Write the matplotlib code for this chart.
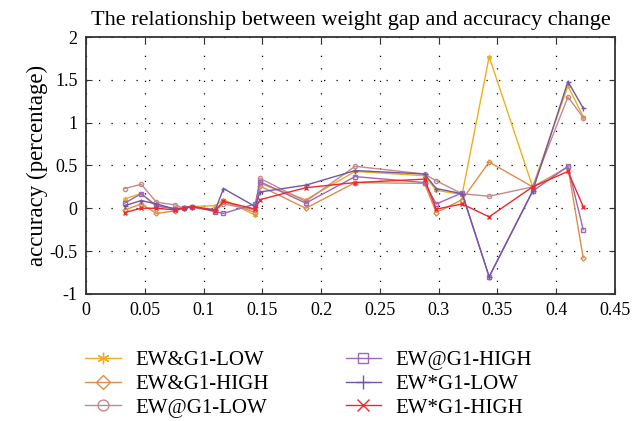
import numpy as np
import matplotlib
matplotlib.use('Agg')
import matplotlib.pyplot as plt
from matplotlib.ticker import FuncFormatter

plt.rcParams['font.family'] = ['Liberation Serif', 'DejaVu Serif']
plt.rcParams['axes.unicode_minus'] = False

# weight gap (x) shared by all series
gap = [0.033, 0.047, 0.060, 0.076, 0.083, 0.090, 0.110, 0.117, 0.144, 0.148,
       0.187, 0.229, 0.288, 0.298, 0.320, 0.343, 0.380, 0.410, 0.423]

ew_and_low  = [0.11, 0.17, 0.02, 0.00, 0.01, 0.02, 0.03, 0.10, -0.08, 0.29,
               0.10, 0.43, 0.38, 0.21, 0.16, 1.77, 0.25, 1.43, 1.07]
ew_and_high = [-0.02, 0.05, -0.06, -0.03, 0.00, 0.02, -0.02, 0.08, -0.05, 0.26,
               0.00, 0.30, 0.29, -0.05, 0.10, 0.54, 0.25, 0.48, -0.58]
ew_at_low   = [0.23, 0.28, 0.07, 0.04, 0.00, 0.01, -0.02, 0.05, -0.02, 0.35,
               0.08, 0.49, 0.40, 0.32, 0.17, 0.14, 0.25, 1.30, 1.06]
ew_at_high  = [0.06, 0.17, 0.03, -0.01, 0.00, 0.02, -0.04, -0.06, 0.05, 0.31,
               0.06, 0.37, 0.30, 0.05, 0.18, -0.80, 0.20, 0.49, -0.25]
ew_st_low   = [0.03, 0.09, 0.05, -0.01, 0.00, 0.02, -0.02, 0.23, 0.02, 0.19,
               0.27, 0.44, 0.40, 0.23, 0.17, -0.80, 0.20, 1.48, 1.17]
ew_st_high  = [-0.05, 0.00, 0.00, -0.02, 0.00, 0.02, -0.03, 0.08, -0.01, 0.10,
               0.24, 0.30, 0.34, -0.01, 0.05, -0.10, 0.25, 0.43, 0.02]

labels = ['EW&G1-LOW', 'EW&G1-HIGH', 'EW@G1-LOW', 'EW@G1-HIGH', 'EW*G1-LOW', 'EW*G1-HIGH']
series = [ew_and_low, ew_and_high, ew_at_low, ew_at_high, ew_st_low, ew_st_high]
colors = ['#EFAE1C', '#D9904C', '#C38A8C', '#A066B8', '#7256A8', '#F0282A']
markers = [(6, 2, 0), 'D', 'o', 's', '+', 'x']
msizes = [3.2, 2.6, 3.0, 3.0, 3.6, 3.2]

fig = plt.figure(figsize=(6.32, 4.21), dpi=100)
ax = fig.add_axes([0.136, 0.302, 0.837, 0.61])

for y, lab, c, mk, ms in zip(series, labels, colors, markers, msizes):
    ax.plot(gap, y, color=c, marker=mk, markersize=ms, markerfacecolor='none',
            markeredgewidth=1.0, linewidth=1.0, label=lab)

ax.set_xlim(0, 0.45)
ax.set_ylim(-1, 2)
ax.set_xticks(np.arange(0, 0.451, 0.05))
ax.set_yticks(np.arange(-1, 2.01, 0.5))
ax.xaxis.set_major_formatter(FuncFormatter(lambda v, p: '%g' % round(v, 2)))
ax.yaxis.set_major_formatter(FuncFormatter(lambda v, p: '%g' % round(v, 2)))
ax.tick_params(direction='in', top=True, right=True, labelsize=13, length=4,
               color='#333333', pad=6)
ax.grid(True, color='black', linestyle=(0, (1, 9)), linewidth=0.9)
for s in ax.spines.values():
    s.set_linewidth(1.3)
    s.set_color('#333333')

ax.set_title('The relationship between weight gap and accuracy change', fontsize=16, pad=9)
ax.set_ylabel('accuracy (percentage)', fontsize=16.5, labelpad=1)

leg = fig.legend(loc='upper left', bbox_to_anchor=(0.105, 0.212), ncol=2, frameon=False,
                 fontsize=15, handlelength=1.7, handletextpad=0.7, columnspacing=3.7,
                 labelspacing=0.2, markerscale=2.6)
fig.savefig('out.png', dpi=100)
